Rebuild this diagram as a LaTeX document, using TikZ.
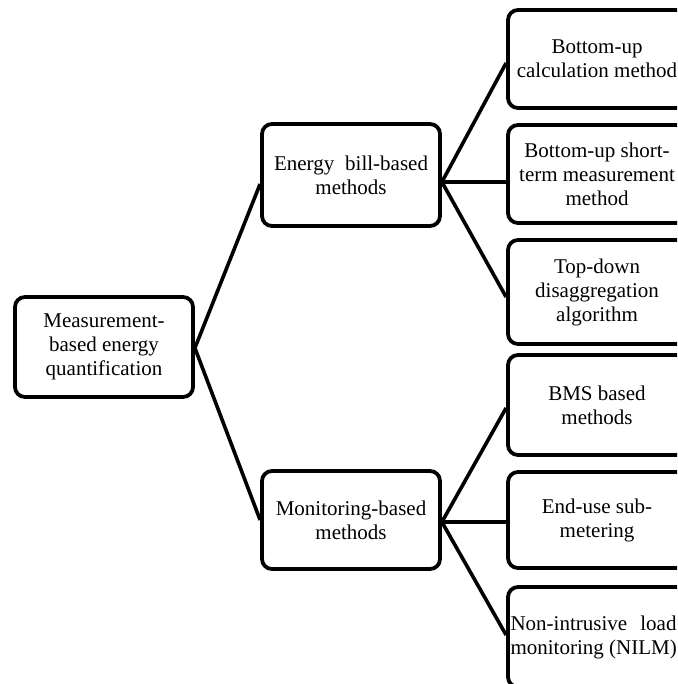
\documentclass[tikz,border=0pt]{standalone}
\usepackage{fontspec}
\setmainfont{Liberation Serif}
\usetikzlibrary{calc}
\tikzset{
  box/.style={draw=black, line width=3.8pt, rounded corners=10pt, fill=white,
    minimum width=178pt, inner sep=0pt, align=center,
    font=\fontsize{21}{24}\selectfont},
  conn/.style={line width=3.6pt}
}
\begin{document}
\begin{tikzpicture}[x=1pt,y=-1pt]
\useasboundingbox (0,0) rectangle (677,684);
\clip (0,0) rectangle (677,684);
\node[box, minimum height=100pt] (root) at (104,347) {Measurement-\\based energy\\quantification};
\node[box, minimum height=102pt] (m1) at (351,175) {\makebox[154pt][s]{Energy bill-based}\\methods};
\node[box, minimum height=98pt] (m2) at (351,520) {Monitoring-based\\methods};
\node[box, minimum height=98pt] (r1) at (597,59) {Bottom-up\\calculation method};
\node[box, minimum height=98pt] (r2) at (597,174) {Bottom-up short-\\term measurement\\method};
\node[box, minimum height=104pt] (r3) at (597,292) {Top-down\\disaggregation\\algorithm};
\node[box, minimum height=100pt] (r4) at (597,405) {BMS based\\methods};
\node[box, minimum height=96pt] (r5) at (597,520) {End-use sub-\\metering};
\node[box, minimum height=100pt] (r6) at (597,637) {\hspace*{-7pt}\makebox[166pt][s]{Non-intrusive load}\\\hspace*{-7pt}\makebox[166pt][l]{monitoring (NILM)}};
\draw[conn] ($(m1.west)+(0,9)$) -- ($(root.east)+(0,1)$) -- (m2.west);
\draw[conn] ($(r1.west)+(0,4)$) -- ($(m1.east)+(0,7)$) -- ($(r2.west)+(0,8)$);
\draw[conn] ($(m1.east)+(0,7)$) -- ($(r3.west)+(0,5)$);
\draw[conn] ($(r4.west)+(0,3)$) -- ($(m2.east)+(0,2)$) -- ($(r5.west)+(0,2)$);
\draw[conn] ($(m2.east)+(0,2)$) -- ($(r6.west)+(0,-2)$);
\end{tikzpicture}
\end{document}
